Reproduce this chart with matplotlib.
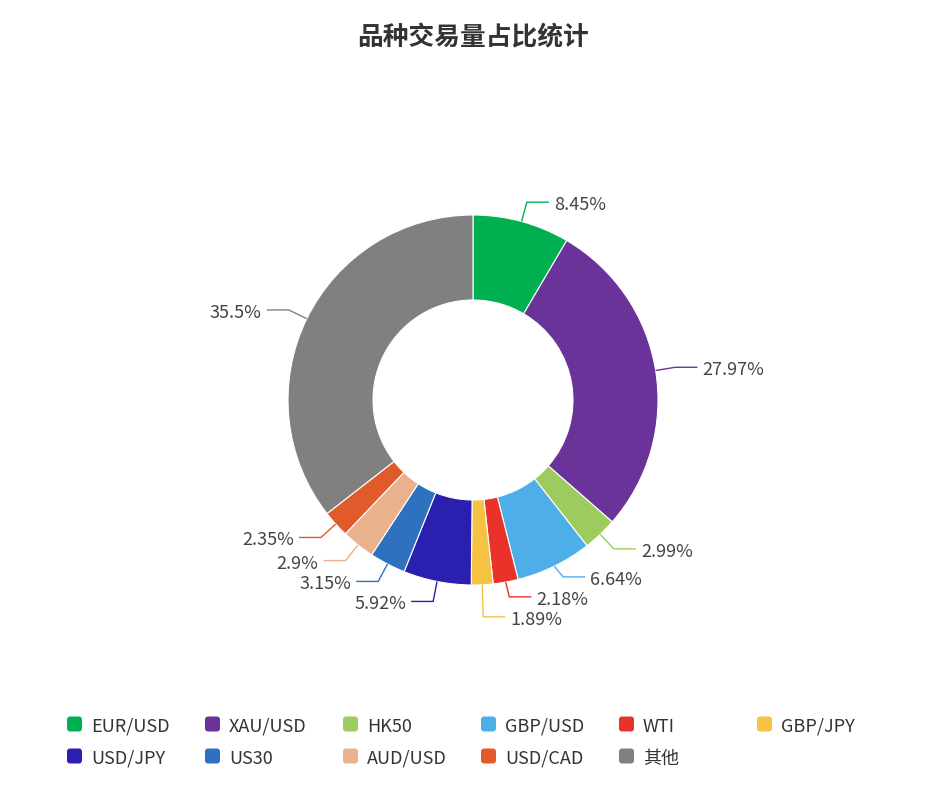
import numpy as np
import matplotlib
matplotlib.use("Agg")
import matplotlib.pyplot as plt
from matplotlib.patches import FancyBboxPatch

plt.rcParams['font.family'] = ['Noto Sans CJK SC', 'DejaVu Sans']

title = "品种交易量占比统计"
names = ["EUR/USD", "XAU/USD", "HK50", "GBP/USD", "WTI", "GBP/JPY",
         "USD/JPY", "US30", "AUD/USD", "USD/CAD", "其他"]
shares = [8.45, 27.97, 2.99, 6.64, 2.18, 1.89, 5.92, 3.15, 2.9, 2.35, 35.5]
colors = ["#00b050", "#6a3399", "#9ecb5e", "#4eaee8", "#e8322a", "#f5c242",
          "#2a1fae", "#2e72bf", "#e9b18c", "#e05a2b", "#808080"]

W, H = 946, 804
fig = plt.figure(figsize=(W / 100, H / 100), dpi=100)
ax = fig.add_axes([0, 0, 1, 1])

cx, cy = 473, H - 401
r_out, r_in = 185, 100

ax.pie(shares, colors=colors, startangle=90, counterclock=False,
       center=(cx, cy), radius=r_out, frame=True,
       wedgeprops=dict(width=r_out - r_in, edgecolor="white", linewidth=0.8))
ax.set_xlim(0, W)
ax.set_ylim(0, H)
ax.axis("off")

# label layout (echarts-like)
total = sum(shares)
cum = np.cumsum([0] + shares[:-1])
mid = [(c + s / 2) / total * 2 * np.pi for c, s in zip(cum, shares)]
r_elb, seg2, gap, min_dy = 205, 22, 5, 20

labels = []
for i, a in enumerate(mid):
    sx, sy = cx + r_out * np.sin(a), cy + r_out * np.cos(a)
    ex, ey = cx + r_elb * np.sin(a), cy + r_elb * np.cos(a)
    side = 1 if np.sin(a) >= 0 else -1
    labels.append(dict(i=i, sx=sx, sy=sy, ex=ex, ey=ey, side=side))

# spread overlapping labels vertically per side
for side in (1, -1):
    grp = sorted([l for l in labels if l["side"] == side], key=lambda l: -l["ey"])
    for _ in range(50):
        moved = False
        for a_, b_ in zip(grp, grp[1:]):
            d = a_["ey"] - b_["ey"]
            if d < min_dy - 0.01:
                shift = (min_dy - d) / 2
                a_["ey"] += shift
                b_["ey"] -= shift
                moved = True
        if not moved:
            break

for l in labels:
    i, side = l["i"], l["side"]
    hx = l["ex"] + side * seg2
    ax.plot([l["sx"], l["ex"], hx], [l["sy"], l["ey"], l["ey"]],
            color=colors[i], lw=1, solid_capstyle="butt")
    ax.text(hx + side * gap, l["ey"], f"{shares[i]:g}%", fontsize=13,
            color="#444444", ha="left" if side > 0 else "right",
            va="center_baseline")

ax.text(cx, H - 35, title, fontsize=18.5, fontweight="bold", color="#333333",
        ha="center", va="center_baseline")

# legend
col_x = [67, 205, 343, 481, 619, 757]
row_y = [725, 757]
for k, (n, c) in enumerate(zip(names, colors)):
    x = col_x[k % 6]
    y = H - row_y[k // 6]
    ax.add_patch(FancyBboxPatch((x, y - 7.5), 15, 15,
                                boxstyle="round,pad=0,rounding_size=3",
                                facecolor=c, edgecolor="none"))
    ax.text(x + 24, y, n, fontsize=13, color="#333333", ha="left",
            va="center_baseline")

fig.savefig("out.png", dpi=100)
